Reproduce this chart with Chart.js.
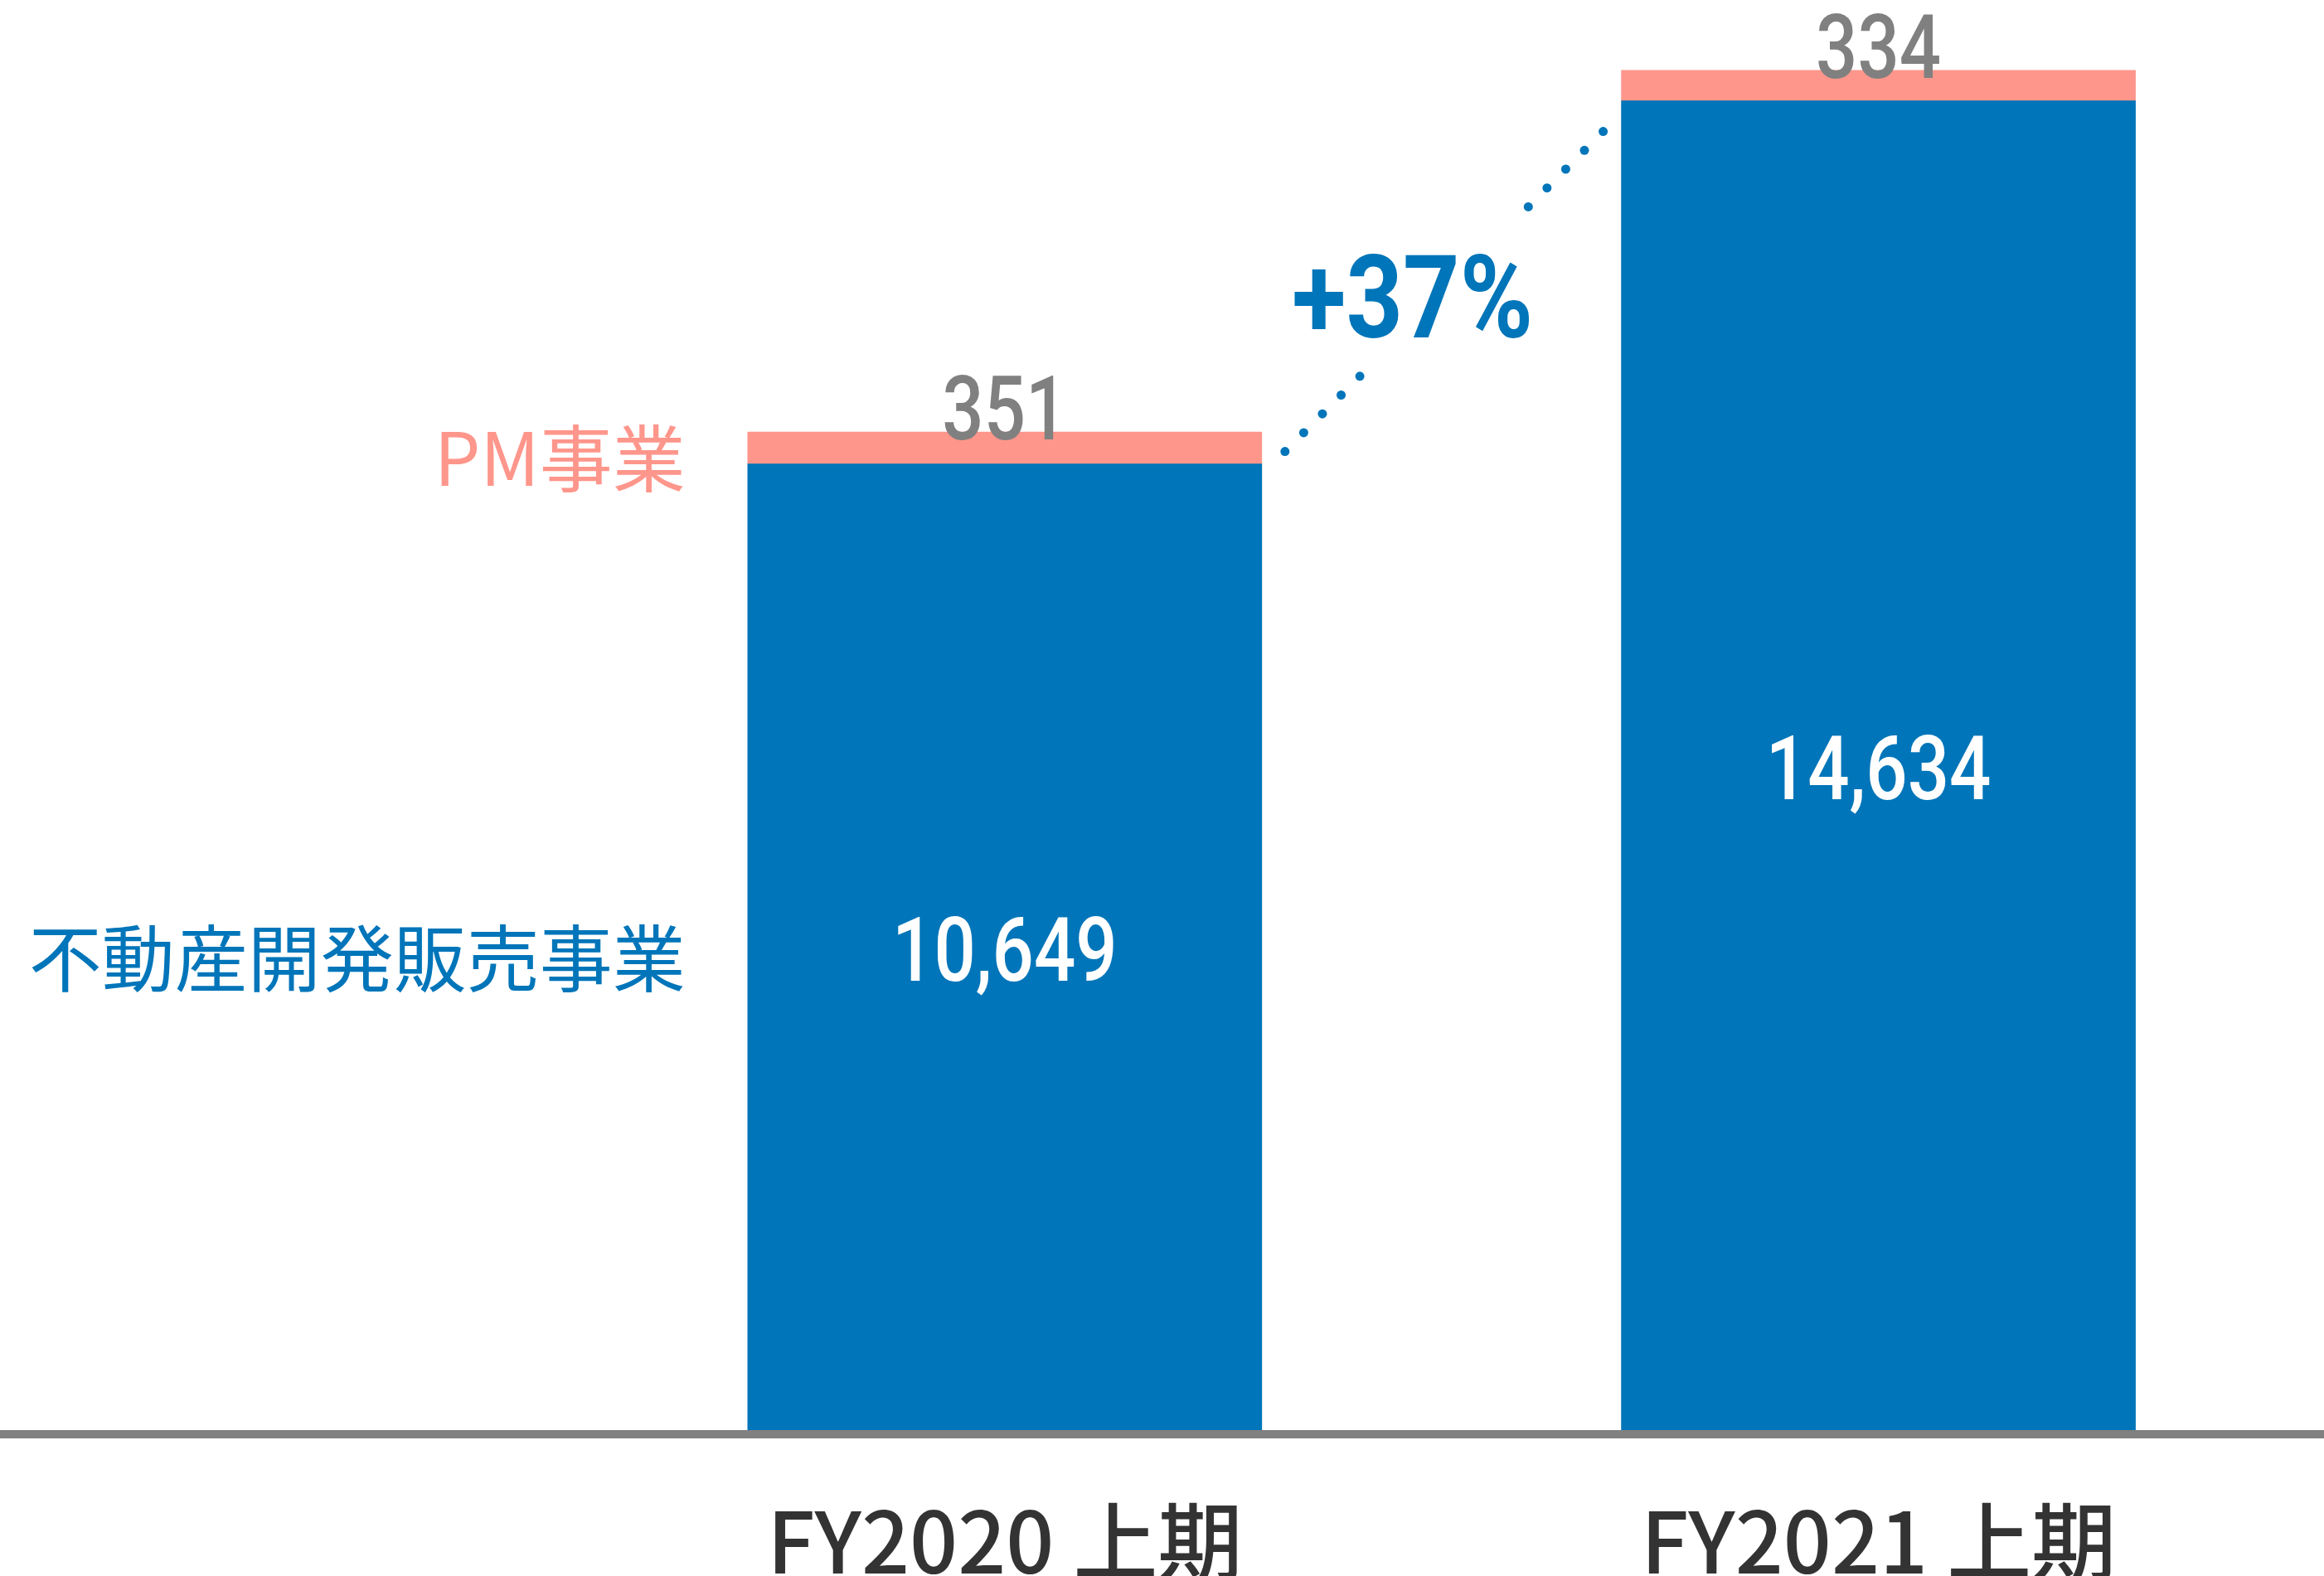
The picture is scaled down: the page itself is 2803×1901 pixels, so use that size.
<!DOCTYPE html>
<html lang="ja">
<head>
<meta charset="utf-8">
<title>売上高 FY2020 上期 / FY2021 上期</title>
<script src="https://cdn.jsdelivr.net/npm/chart.js@4.4.1/dist/chart.umd.min.js"></script>
<style>
  html, body { margin: 0; padding: 0; background: #fff; }
  #wrap { width: 2803px; height: 1901px; position: relative; }
</style>
</head>
<body>
<div id="wrap"><canvas id="chartUriage"></canvas></div>
<script>
// data
const categories = ['FY2020 上期', 'FY2021 上期'];
const seriesNames = ['不動産開発販売事業', 'PM事業'];
const fudosan = [10649, 14634];
const pm = [351, 334];

const BLUE = '#0075b9';
const PINK = '#fe968b';
const GRAY = '#808080';

function toPoints(values) {
  // bar i sits at x = i + 1 on the linear index axis
  return values.map((v, i) => ({ x: i + 1, y: v }));
}

// text squeezed horizontally so Roboto reads like the narrow DIN digits
function squeezeText(ctx, text, x, y, sx) {
  ctx.save();
  ctx.translate(x, y);
  ctx.scale(sx, 1);
  ctx.fillText(text, 0, 0);
  ctx.restore();
}

const labelPlugin = {
  id: 'labelPlugin',
  afterDraw(chart) {
    const ctx = chart.ctx;
    const blueBars = chart.getDatasetMeta(0).data;
    const pinkBars = chart.getDatasetMeta(1).data;

    ctx.save();
    ctx.textAlign = 'center';
    ctx.textBaseline = 'alphabetic';

    // values inside the blue bars
    ctx.font = '500 108px Roboto';
    ctx.fillStyle = '#ffffff';
    blueBars.forEach((bar, i) => {
      const mid = (bar.y + bar.base) / 2;
      squeezeText(ctx, fudosan[i].toLocaleString('en-US'), bar.x, mid + 38, 0.82);
    });

    // values above the pink bars
    ctx.fillStyle = GRAY;
    pinkBars.forEach((bar, i) => {
      squeezeText(ctx, pm[i].toLocaleString('en-US'), bar.x, bar.y + 9, 0.82);
    });

    // series names to the left of the first bar
    ctx.textAlign = 'right';
    ctx.textBaseline = 'middle';
    ctx.font = '400 88px "Noto Sans CJK JP"';
    const b0 = blueBars[0], p0 = pinkBars[0];
    const left0 = b0.x - b0.width / 2;
    ctx.fillStyle = BLUE;
    ctx.fillText(seriesNames[0], left0 - 75, (b0.y + b0.base) / 2 + 11);
    ctx.fillStyle = PINK;
    ctx.fillText(seriesNames[1], left0 - 75, (p0.y + p0.base) / 2 + 12);

    // dotted growth line between the bars
    const b1 = blueBars[1];
    const sx = b0.x + b0.width / 2 + 28, sy = b0.y - 15;
    const ex = b1.x - b1.width / 2 - 22, ey = b1.y + 37;
    const steps = 17;
    ctx.fillStyle = BLUE;
    for (let i = 0; i <= steps; i++) {
      if (i > 4 && i < 13) continue;
      const t = i / steps;
      ctx.beginPath();
      ctx.arc(sx + (ex - sx) * t, sy + (ey - sy) * t, 5.5, 0, Math.PI * 2);
      ctx.fill();
    }

    // growth of the main segment
    const growth = Math.round((fudosan[1] / fudosan[0] - 1) * 100);
    ctx.textAlign = 'center';
    ctx.textBaseline = 'alphabetic';
    ctx.font = '700 139px Roboto';
    squeezeText(ctx, '+' + growth + '%', (sx + ex) / 2 - 38, (sy + ey) / 2 + 55, 0.86);

    ctx.restore();
  }
};

new Chart(document.getElementById('chartUriage'), {
  type: 'bar',
  data: {
    datasets: [
      { label: seriesNames[0], data: toPoints(fudosan), backgroundColor: BLUE, stack: 's' },
      { label: seriesNames[1], data: toPoints(pm), backgroundColor: PINK, stack: 's' }
    ]
  },
  options: {
    responsive: true,
    maintainAspectRatio: false,
    animation: false,
    barThickness: 620,
    layout: { padding: { top: 0, left: 0, right: 0, bottom: -79 } },
    plugins: { legend: { display: false }, tooltip: { enabled: false } },
    scales: {
      x: {
        type: 'linear',
        min: -0.15,
        max: 2.51,
        offset: false,
        grid: { display: false, offset: false },
        border: { display: true, color: GRAY, width: 10, z: 1 },
        afterBuildTicks: scale => { scale.ticks = categories.map((c, i) => ({ value: i + 1 })); },
        ticks: {
          autoSkip: false,
          maxRotation: 0,
          padding: 75,
          color: '#333333',
          font: { family: '"Noto Sans CJK JP"', size: 102, weight: 500, lineHeight: 0.9 },
          callback: v => categories[v - 1]
        }
      },
      y: {
        display: false,
        stacked: true,
        min: 0,
        max: 15740
      }
    }
  },
  plugins: [labelPlugin]
});
</script>
</body>
</html>
